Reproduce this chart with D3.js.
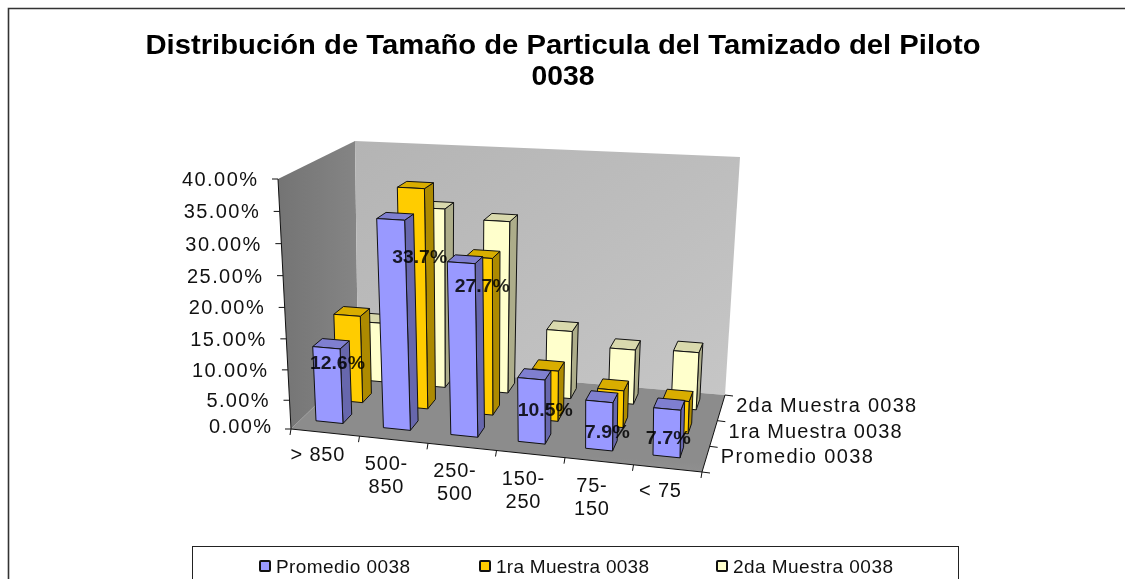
<!DOCTYPE html>
<html><head><meta charset="utf-8">
<script src="https://cdn.jsdelivr.net/npm/d3@7"></script>
<style>html,body{margin:0;padding:0;background:#fff;overflow:hidden}svg{display:block;font-family:"Liberation Sans",Arial,sans-serif;filter:blur(0.35px)}</style>
</head><body><svg id="c" width="1125" height="579"></svg>
<script>
const categories = ["> 850", "500-|850", "250-|500", "150-|250", "75-|150", "< 75"];
const seriesNames = ["Promedio 0038", "1ra Muestra 0038", "2da Muestra 0038"];
const promedio = [12.6, 33.7, 27.7, 10.5, 7.9, 7.7];
const primera = [15.0, 36.5, 26.0, 8.6, 6.3, 5.5];
const segunda = [10.7, 30.9, 29.4, 11.8, 9.5, 9.9];
const seriesValues = [promedio, primera, segunda];
const yTicks = [0, 5, 10, 15, 20, 25, 30, 35, 40];
const titleLines = ["Distribución de Tamaño de Particula del Tamizado del Piloto", "0038"];

// layout
const faces = [["#9999ff","#6767ad","#7f7fd0"],["#ffcc00","#ad8a00","#d9ad00"],["#ffffcc","#adad8a","#d9d9ad"]];
const labelDy = [15, 38, 23, 31, 31, 29];
const labelDx = [11, 29, 21, 14, 8, 1];
const FL=[291,429],FR=[702,472],BL=[358,364],BR=[725,395];
const hFL=[-13,-250],hFR=[4,-270],hBL=[-3,-223],hBR=[15,-238];
const lerp2=(a,b,c,d,u,v)=>[0,1].map(i=>(a[i]*(1-u)+b[i]*u)*(1-v)+(c[i]*(1-u)+d[i]*u)*v);

const uScale=d3.scaleBand().domain(d3.range(categories.length)).range([-.013,.987]).paddingInner(.6).paddingOuter(.3);
const vScale=d3.scaleBand().domain(d3.range(3)).range([.15,.92]).paddingInner(.556).paddingOuter(0);
const hScale=d3.scalePow().exponent(1.04).domain([0,40]).range([0,1]);
const fmt=d3.format(".2f"), fmt1=d3.format(".1f");
function P(u,v,val){const b=lerp2(FL,FR,BL,BR,u,v),h=lerp2(hFL,hFR,hBL,hBR,u,v),t=hScale(val);return [b[0]+h[0]*t,b[1]+h[1]*t];}
const svg=d3.select("#c");
const line=d3.line();
const poly=(pts,fill,stroke,sw)=>svg.append("path").attr("d",line(pts)+"Z").attr("fill",fill).attr("stroke",stroke||"none").attr("stroke-width",sw||1).attr("stroke-linejoin","round");
const defs=svg.append("defs");
const lg=defs.append("linearGradient").attr("id","wallL").attr("x1",0).attr("x2",1).attr("y1",0).attr("y2",0);
lg.append("stop").attr("offset",0).attr("stop-color","#747474");lg.append("stop").attr("offset",1).attr("stop-color","#858585");
const bk=defs.append("linearGradient").attr("id","wallB").attr("x1",0).attr("x2",1).attr("y1",0).attr("y2",1);
bk.append("stop").attr("offset",0).attr("stop-color","#b4b4b4");bk.append("stop").attr("offset",1).attr("stop-color","#c6c6c6");
const fg=defs.append("linearGradient").attr("id","floorG").attr("x1",0).attr("x2",.25).attr("y1",1).attr("y2",0);
fg.append("stop").attr("offset",0).attr("stop-color","#9a9a9a");fg.append("stop").attr("offset",.3).attr("stop-color","#8c8c8c");fg.append("stop").attr("offset",1).attr("stop-color","#8c8c8c");

// frame
svg.append("path").attr("d","M8.5,579V8.5H1125").attr("fill","none").attr("stroke","#333").attr("stroke-width",1.6);

// title
svg.selectAll(".t").data(titleLines).join("text").attr("x",563).attr("y",(d,i)=>54+i*31)
 .attr("text-anchor","middle").attr("font-weight","bold").attr("font-size",27).attr("fill","#000").text(d=>d)
 .attr("textLength",(d,i)=>i?63:835).attr("lengthAdjust","spacingAndGlyphs");

// walls + floor
poly([P(0,0,0),P(0,0,40),P(0,1,40),P(0,1,0)],"url(#wallL)");
poly([P(0,1,0),P(0,1,40),P(1,1,40),P(1,1,0)],"url(#wallB)");
poly([P(0,0,0),P(1,0,0),P(1,1,0),P(0,1,0)],"url(#floorG)");
// axes lines
const axis=(a,b)=>svg.append("line").attr("x1",a[0]).attr("y1",a[1]).attr("x2",b[0]).attr("y2",b[1]).attr("stroke","#111").attr("stroke-width",1);
axis(P(0,0,0),P(0,0,40));axis(P(0,0,0),P(1,0,0));axis(P(1,0,0),P(1,1,0));
// y ticks
yTicks.forEach(t=>{const p=P(0,0,t);axis(p,[p[0]-6,p[1]]);
 svg.append("text").attr("x",p[0]-(t===0?20:21)).attr("y",p[1]+7-(t===0?3:0)).attr("text-anchor","end").attr("font-size",20).attr("fill","#111")
 .text(fmt(t)+"%").attr("textLength",t<10?62:75).attr("lengthAdjust","spacing");});
// x ticks + labels
d3.range(categories.length+1).forEach(i=>{const u=i/categories.length,p=P(u,0,0);axis(p,[p[0]-1,p[1]+6]);});
categories.forEach((c,i)=>{const u=uScale(i)+uScale.bandwidth()/2,p=P(u,0,0);
 c.split("|").forEach((s,k)=>svg.append("text").attr("x",p[0]-2).attr("y",p[1]+31+k*23-(c.includes("|")?0:2)).attr("text-anchor","middle").attr("font-size",20).attr("fill","#111").style("letter-spacing","0.8px").text(s));});
// depth ticks + labels
d3.range(4).forEach(i=>{const p=P(1,i/3,0);axis(p,[p[0]+8,p[1]+1]);});
seriesNames.forEach((s,i)=>{const p=P(1,(i+.5)/3,0);
 svg.append("text").attr("x",p[0]+15).attr("y",p[1]+4).attr("font-size",20).attr("fill","#111").attr("textLength",[152,173,180][i]).attr("lengthAdjust","spacing").text(s);});

// bars back to front
[2,1,0].forEach(si=>{
 const v0=vScale(si),v1=v0+vScale.bandwidth();
 seriesValues[si].forEach((val,ci)=>{
  const u0=uScale(ci),u1=u0+uScale.bandwidth(),[f,sd,tp]=faces[si];
  poly([P(u1,v0,0),P(u1,v0,val),P(u1,v1,val),P(u1,v1,0)],sd,"#111");
  poly([P(u0,v0,val),P(u1,v0,val),P(u1,v1,val),P(u0,v1,val)],tp,"#111");
  poly([P(u0,v0,0),P(u0,v0,val),P(u1,v0,val),P(u1,v0,0)],f,"#111");
 });
});
// labels
promedio.forEach((val,ci)=>{const p=P(uScale(ci)+uScale.bandwidth()/2,vScale(0),val);
 svg.append("text").attr("x",p[0]+labelDx[ci]).attr("y",p[1]+labelDy[ci]+6).attr("text-anchor","middle").attr("font-size",18).attr("font-weight","bold").attr("fill","#000").attr("fill-opacity",.85).attr("textLength",val<10?45:55).attr("lengthAdjust","spacingAndGlyphs").text(fmt1(val)+"%");});

// legend
svg.append("rect").attr("x",192.5).attr("y",546.5).attr("width",766).attr("height",60).attr("fill","#fff").attr("stroke","#222");
const lx=[260,480,717], tw=[134,153,160];
seriesNames.forEach((s,i)=>{
 svg.append("rect").attr("x",lx[i]).attr("y",561).attr("width",10).attr("height",10).attr("rx",1).attr("fill",faces[i][0]).attr("stroke","#111").attr("stroke-width",2);
 svg.append("text").attr("x",lx[i]+16).attr("y",573).attr("font-size",19).attr("fill","#111").attr("textLength",tw[i]).attr("lengthAdjust","spacing").text(s);
});
</script></body></html>
